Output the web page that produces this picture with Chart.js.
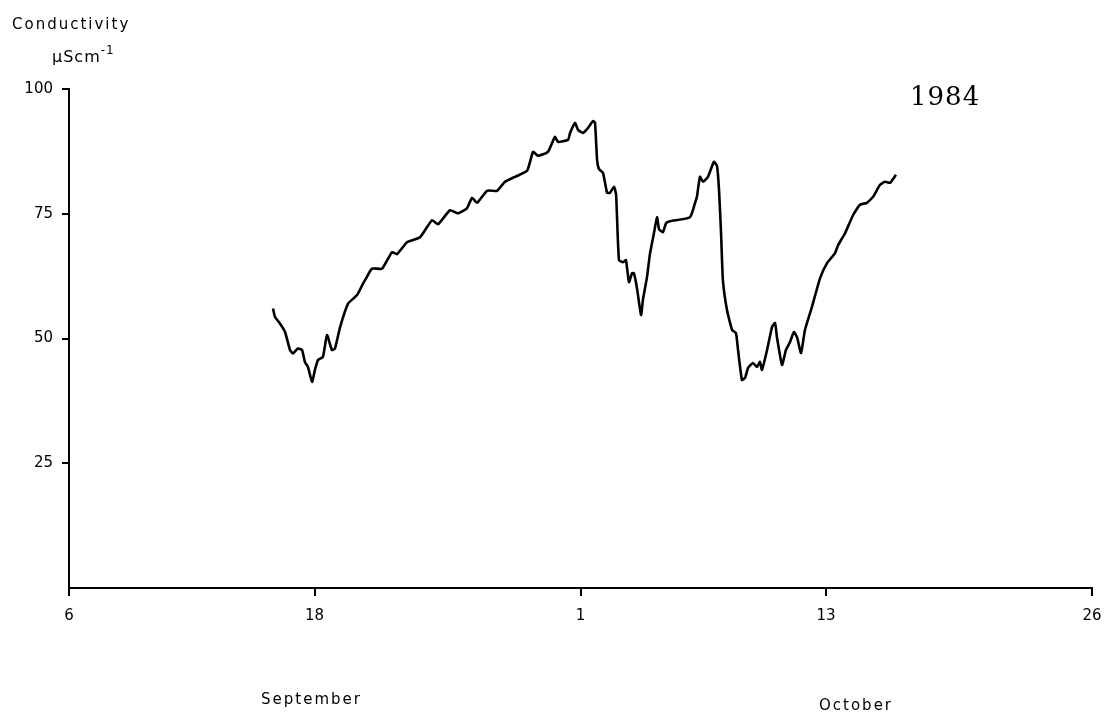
<!DOCTYPE html>
<html>
<head>
<meta charset="utf-8">
<script src="https://cdn.jsdelivr.net/npm/chart.js@4/dist/chart.umd.min.js"></script>
<style>
  html, body { margin: 0; padding: 0; background: #fff; }
  #wrap { width: 1107px; height: 714px; }
</style>
</head>
<body>
<div id="wrap"><canvas id="condChart" width="1107" height="714"></canvas></div>
<script>
  // days counted from 6 September 1984
  var tickDays = [0, 12, 25, 37, 50];
  var tickLabels = ["6", "18", "1", "13", "26"];
  var yTicks = [25, 50, 75, 100];

  var days = [
    9.97, 10.07, 10.31, 10.56, 10.80, 10.95, 11.19, 11.39, 11.53, 11.68,
    11.88, 12.02, 12.17, 12.41, 12.61, 12.85, 13.00, 13.25, 13.64, 14.08,
    14.37, 14.47, 14.81, 15.30, 15.79, 16.03, 16.52, 17.16, 17.74, 18.04,
    18.62, 19.01, 19.45, 19.70, 19.94, 20.43, 20.92, 21.31, 21.80, 22.39,
    22.68, 22.92, 23.41, 23.75, 23.90, 24.39, 24.49, 24.73, 24.88, 25.12,
    25.37, 25.61, 25.71, 25.81, 25.90, 26.10, 26.30, 26.44, 26.64, 26.74,
    26.88, 27.08, 27.22, 27.37, 27.52, 27.61, 27.76, 27.96, 28.05, 28.25,
    28.40, 28.59, 28.74, 28.84, 29.03, 29.18, 29.37, 30.35, 30.60, 30.69,
    30.84, 30.99, 31.23, 31.52, 31.67, 31.77, 31.87, 31.96, 32.16, 32.41,
    32.60, 32.70, 32.89, 33.04, 33.19, 33.43, 33.63, 33.77, 33.87, 34.12,
    34.36, 34.51, 34.60, 34.85, 35.04, 35.24, 35.43, 35.58, 35.78, 35.97,
    36.31, 36.71, 37.05, 37.44, 37.59, 37.93, 38.32, 38.66, 39.00, 39.30,
    39.64, 39.88, 40.13, 40.42
  ];
  var conductivity = [
    56.0, 54.3, 53.0, 51.3, 47.7, 47.0, 48.0, 47.7, 45.3, 44.3,
    41.3, 43.7, 45.7, 46.3, 50.7, 47.7, 48.0, 52.3, 57.0, 58.7,
    61.0, 61.7, 64.0, 64.0, 67.3, 66.9, 69.3, 70.3, 73.7, 72.9,
    75.7, 75.1, 76.1, 78.2, 77.2, 79.6, 79.6, 81.4, 82.4, 83.6,
    87.4, 86.6, 87.4, 90.4, 89.4, 89.8, 91.2, 93.2, 91.8, 91.2,
    92.2, 93.6, 93.2, 85.8, 84.0, 83.2, 79.2, 79.2, 80.4, 78.8,
    65.7, 65.3, 65.7, 61.3, 63.1, 63.1, 60.1, 54.7, 57.7, 62.3,
    67.1, 71.1, 74.3, 71.9, 71.3, 73.1, 73.5, 74.3, 77.2, 78.4,
    82.4, 81.4, 82.4, 85.4, 84.6, 79.8, 71.1, 61.7, 55.7, 51.7,
    51.1, 47.7, 41.7, 42.1, 44.1, 45.1, 44.3, 45.3, 43.7, 47.7,
    52.3, 53.1, 50.3, 44.7, 47.7, 49.3, 51.3, 50.3, 47.1, 51.7,
    56.3, 62.1, 65.1, 67.1, 68.7, 71.1, 74.7, 76.8, 77.2, 78.4,
    80.8, 81.4, 81.2, 82.8
  ];

  var points = days.map((d, i) => ({ x: d, y: conductivity[i] }));

  var plotFont = "DejaVu Sans";

  // axis titles, month names and year drawn straight on the canvas
  var textPlugin = {
    id: "plotText",
    afterDraw(chart) {
      var ctx = chart.ctx;
      ctx.save();
      ctx.fillStyle = "#000";
      ctx.textBaseline = "alphabetic";
      ctx.textAlign = "left";

      ctx.font = "15px '" + plotFont + "'";
      ctx.letterSpacing = "2px";
      ctx.fillText("Conductivity", 12, 29);

      ctx.font = "16px '" + plotFont + "'";
      ctx.letterSpacing = "1px";
      ctx.fillText("\u00b5Scm", 52, 62);
      var w = ctx.measureText("\u00b5Scm").width;
      ctx.font = "12px '" + plotFont + "'";
      ctx.fillText("-1", 52 + w, 54);

      ctx.font = "15px '" + plotFont + "'";
      ctx.letterSpacing = "2px";
      ctx.fillText("September", 261, 704);
      ctx.fillText("October", 819, 710);

      ctx.font = "26px 'DejaVu Serif'";
      ctx.letterSpacing = "1px";
      ctx.fillText("1984", 910, 105);
      ctx.restore();
    }
  };

  var ctxCond = document.getElementById("condChart").getContext("2d");

  var condChart = new Chart(ctxCond, {
    type: "line",
    data: {
      datasets: [{
        label: "Conductivity",
        data: points,
        borderColor: "#000",
        borderWidth: 2.6,
        pointRadius: 0,
        tension: 0.15,
        fill: false
      }]
    },
    options: {
      responsive: false,
      animation: false,
      layout: {
        padding: { left: 0, right: 15, top: 89, bottom: 0 }
      },
      plugins: {
        legend: { display: false },
        tooltip: { enabled: false }
      },
      scales: {
        x: {
          type: "linear",
          min: 0,
          max: 50,
          afterBuildTicks: (scale) => {
            scale.ticks = tickDays.map((v) => ({ value: v }));
          },
          afterFit: (scale) => {
            scale.height = 126;
            scale.paddingLeft = 0;
            scale.paddingRight = 0;
          },
          ticks: {
            autoSkip: false,
            maxRotation: 0,
            padding: 11,
            color: "#000",
            font: { family: plotFont, size: 15 },
            callback: (v) => tickLabels[tickDays.indexOf(v)]
          },
          grid: {
            drawOnChartArea: false,
            drawTicks: true,
            tickLength: 8,
            color: "#000",
            lineWidth: 2
          },
          border: { display: true, color: "#000", width: 2 }
        },
        y: {
          min: 0,
          max: 100,
          afterBuildTicks: (scale) => {
            scale.ticks = [0].concat(yTicks).map((v) => ({ value: v }));
          },
          afterFit: (scale) => { scale.width = 69; },
          ticks: {
            padding: 9,
            color: "#000",
            font: { family: plotFont, size: 15 },
            callback: (v) => (v === 0 ? "" : String(v))
          },
          grid: {
            drawOnChartArea: false,
            drawTicks: true,
            tickLength: 7,
            color: (c) => (c.tick && c.tick.value === 0 ? "rgba(0,0,0,0)" : "#000"),
            lineWidth: 2
          },
          border: { display: true, color: "#000", width: 2 }
        }
      }
    },
    plugins: [textPlugin]
  });
</script>
</body>
</html>
